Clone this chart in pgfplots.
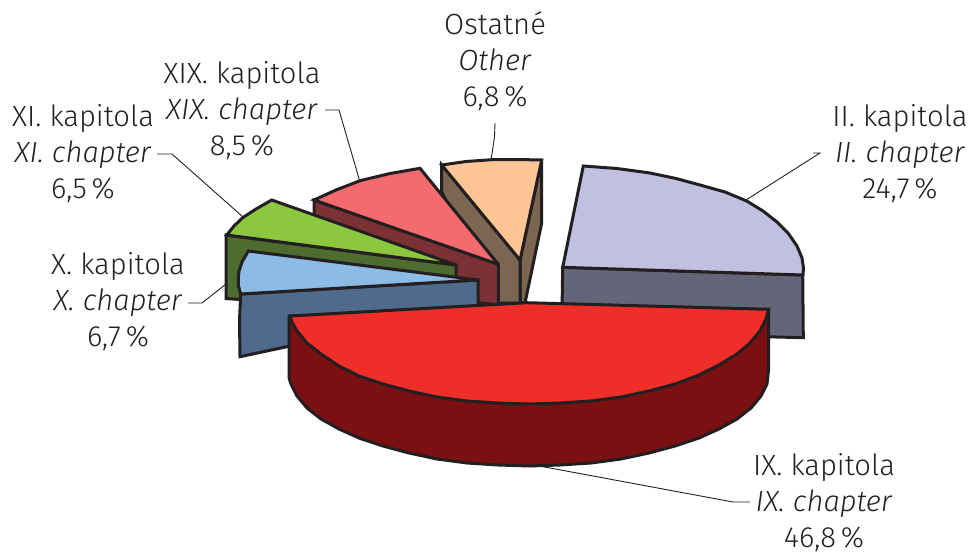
\documentclass[border=0pt]{standalone}
\usepackage{pgfplots}
\pgfplotsset{compat=1.18}
\usepackage{fontspec}
\setmainfont{Fira Sans Light}[ItalicFont={Fira Sans Light Italic}]
\definecolor{ink}{HTML}{231F20}
\definecolor{cRed}{HTML}{EF2E2A}\definecolor{dRed}{HTML}{7A1012}
\definecolor{cLav}{HTML}{C2C0E0}\definecolor{dLav}{HTML}{646578}
\definecolor{cOra}{HTML}{FFC595}\definecolor{dOra}{HTML}{7A6651}
\definecolor{cPin}{HTML}{F36A6F}\definecolor{dPin}{HTML}{7C3235}
\definecolor{cGre}{HTML}{8DC63F}\definecolor{dGre}{HTML}{4E6B30}
\definecolor{cBlu}{HTML}{8CBBE6}\definecolor{dBlu}{HTML}{4F6A8A}
\pgfplotsset{
  face/.style={no markers,draw=ink,line width=1.5pt,line join=miter,miter limit=3,fill=#1},
  lead/.style={no markers,draw=ink,line width=0.45pt},
}
\newcommand{\lab}[5]{\node[align=center,font=\fontsize{14.6}{18}\selectfont,text=ink,anchor=center] at (axis cs:#1,#2) {#3\\\textit{#4}\\#5};}
\begin{document}
\begin{tikzpicture}
\useasboundingbox (0,0) rectangle (484pt,275.5pt);
\begin{axis}[at={(0,0)},anchor=south west,width=484pt,height=275.5pt,scale only axis,
  xmin=0,xmax=968,ymin=0,ymax=551,y dir=reverse,hide axis,clip=false]
% leaders
\addplot[lead] coordinates {(813,153)(820,153)(746,200)};
\addplot[lead] coordinates {(543,466.7)(733,502)(750,502)};
\addplot[lead] coordinates {(325,110)(339,110)(360,182)};
\addplot[lead] coordinates {(157,154)(172,154)(243,217)};
\addplot[lead] coordinates {(188,303)(202,303)(240,273)};
\addplot[lead] coordinates {(491,160)(494.5,137)(495,123)};
% orange
\addplot[face=dOra] coordinates {(541.7,160)(541.7,223)(525,303)(520,303)(520,260)} --cycle;
\addplot[face=dOra] coordinates {(441.7,165)(520,260)(520,303)(498,303)(441.7,192)} --cycle;
\addplot[face=cOra] coordinates {(441.7,165)(466,161.5)(491.7,159.7)(517,159.5)(541.7,160)(520,260)} --cycle;
% pink
\addplot[face=dPin] coordinates {(314,200)(498.3,264.3)(498.3,305)(456,300)(314,215)} --cycle;
\addplot[face=cPin] coordinates {(314,200)(336,190)(360,180.7)(390,173.5)(420,168.3)(498.3,264.3)} --cycle;
% green
\addplot[face=dGre] coordinates {(226,235)(456,265)(456,278)(240,299.5)(226,298.5)} --cycle;
\addplot[face=cGre] coordinates {(226.7,235)(234,226)(242.7,217.7)(256,209)(271.7,200)(456,265)} --cycle;
% blue
\addplot[face=dBlu] coordinates {(240.7,294)(478,280)(478,306)(240,356.7)(239.5,320)} --cycle;
\addplot[face=cBlu] coordinates {(248.3,251)(478,280)(240.7,294)(238.5,286)(238.3,278)(239,271)(242,262)} --cycle;
% lavender
\addplot[face=dLav] coordinates {(562.7,267.3)(802.7,275)(803.3,337.7)(700,335)(562,310)} --cycle;
\addplot[face=cLav] coordinates {(583.3,166)(617,168.5)(650,173)(676,178.5)(700,185)(725,192)(746.7,201)(763,211)(777,222)(788,233)(797,246)(802,258)(803.5,268)(803,275)(562.7,267.3)} --cycle;
% red
\addplot[face=dRed] coordinates {(289,316)(289,378)(291,384)(297,396)(307,408)(321,419)(339,429)(359,438)(383,446)(409,453)(437,459)(467,463)(498,465)(529,466)(560,465)(591,463)(621,459)(649,453)(675,446)(699,438)(719,429)(737,419)(751,408)(761,396)(767,384)(768.5,370)(768.5,309.3)} --cycle;
\addplot[face=cRed] coordinates {(290,316)(526.7,302.7)(768.5,309.3)(766,319)(760,331)(750,343)(737,354)(719,365)(699,375)(675,384)(649,391)(621,397)(591,401)(560,403)(529,404)(498,403)(467,401)(437,397)(409,391)(383,384)(359,376)(339,366)(321,354)(307,343)(297,331)(292,322)} --cycle;
% labels
\lab{495}{61}{Ostatné}{Other}{6,8\,\%}
\lab{900}{154}{II. kapitola}{II. chapter}{24,7\,\%}
\lab{242}{111}{XIX. kapitola}{XIX. chapter}{8,5\,\%}
\lab{83}{154}{XI. kapitola}{XI. chapter}{6,5\,\%}
\lab{118}{302}{X. kapitola}{X. chapter}{6,7\,\%}
\lab{824}{502.5}{IX. kapitola}{IX. chapter}{46,8\,\%}
\end{axis}
\end{tikzpicture}
\end{document}
